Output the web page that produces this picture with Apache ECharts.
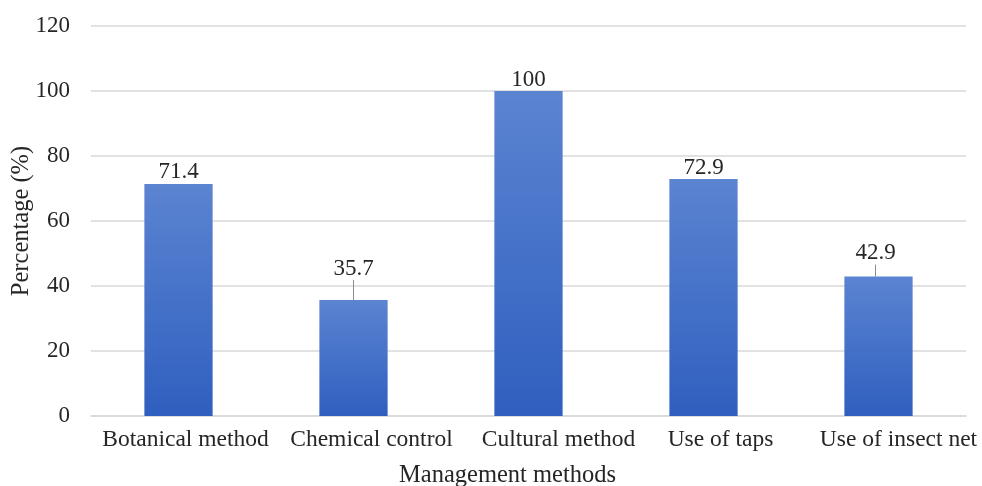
<!DOCTYPE html>
<html>
<head>
<meta charset="utf-8">
<script src="https://cdn.jsdelivr.net/npm/echarts@6/dist/echarts.min.js"></script>
<style>
  html, body { margin: 0; padding: 0; background: #fff; }
  #chart { width: 982px; height: 486px; }
</style>
</head>
<body>
<div id="chart"></div>
<script>
// Share of respondents using each management method
const categories = ['Botanical method', 'Chemical control', 'Cultural method', 'Use of taps', 'Use of insect net'];
const percentages = [71.4, 35.7, 100, 72.9, 42.9];
const yTicks = [0, 20, 40, 60, 80, 100, 120];

const FONT = '"Liberation Serif", "DejaVu Serif", serif';
const TEXT = '#262626';

// Labels that sit higher above their bar with a leader line
const raisedLabels = { 1: { dx: 0, dy: -20 }, 4: { dx: -3, dy: -12 } };
// Horizontal nudge (px, rightwards) of each category label under its bar
const categoryShift = [7, 18, 30, 17, 20];

const barData = percentages.map((v, i) => ({
  value: v,
  labelLine: { show: !!raisedLabels[i] }
}));

const categoryRich = {};
categoryShift.forEach((s, i) => {
  categoryRich['c' + i] = {
    fontFamily: FONT, fontSize: 23.5, color: TEXT,
    padding: [0, 0, 0, 2 * s]
  };
});

const chart = echarts.init(document.getElementById('chart'));
chart.setOption({
  animation: false,
  backgroundColor: '#ffffff',
  grid: { left: 91, right: 16, top: 26, bottom: 70, containLabel: false, outerBoundsMode: 'none' },
  xAxis: {
    type: 'category',
    data: categories,
    name: 'Management methods',
    nameLocation: 'middle',
    nameGap: 47,
    nameMoveOverlap: false,
    nameTextStyle: { fontFamily: FONT, fontSize: 24.5, color: TEXT, padding: [0, 42, 0, 0] },
    axisLine: { lineStyle: { color: '#d9d9d9', width: 1.5 } },
    axisTick: { show: false },
    axisLabel: {
      fontFamily: FONT, fontSize: 23.5, color: TEXT, margin: 12, interval: 0,
      formatter: (value, index) => '{c' + index + '|' + value + '}',
      rich: categoryRich
    }
  },
  yAxis: {
    type: 'value',
    min: yTicks[0],
    max: yTicks[yTicks.length - 1],
    interval: yTicks[1] - yTicks[0],
    name: 'Percentage (%)',
    nameLocation: 'middle',
    nameGap: 57,
    nameMoveOverlap: false,
    nameTextStyle: { fontFamily: FONT, fontSize: 24.5, color: TEXT },
    axisLine: { show: false },
    axisTick: { show: false },
    axisLabel: { fontFamily: FONT, fontSize: 23, color: TEXT, margin: 21 },
    splitLine: { lineStyle: { color: '#d9d9d9', width: 1.5 } }
  },
  series: [{
    type: 'bar',
    data: barData,
    barWidth: '39%',
    itemStyle: {
      color: new echarts.graphic.LinearGradient(0, 0, 0, 1, [
        { offset: 0, color: '#5b84d1' },
        { offset: 1, color: '#2f5fbf' }
      ])
    },
    label: {
      show: true,
      position: 'top',
      distance: 0,
      fontFamily: FONT,
      fontSize: 23,
      color: TEXT
    },
    labelLine: { show: false, lineStyle: { color: '#8c8c8c', width: 1 } },
    labelLayout: function (params) {
      const m = raisedLabels[params.dataIndex];
      return m ? { dx: m.dx, dy: m.dy } : {};
    }
  }]
});
</script>
</body>
</html>
